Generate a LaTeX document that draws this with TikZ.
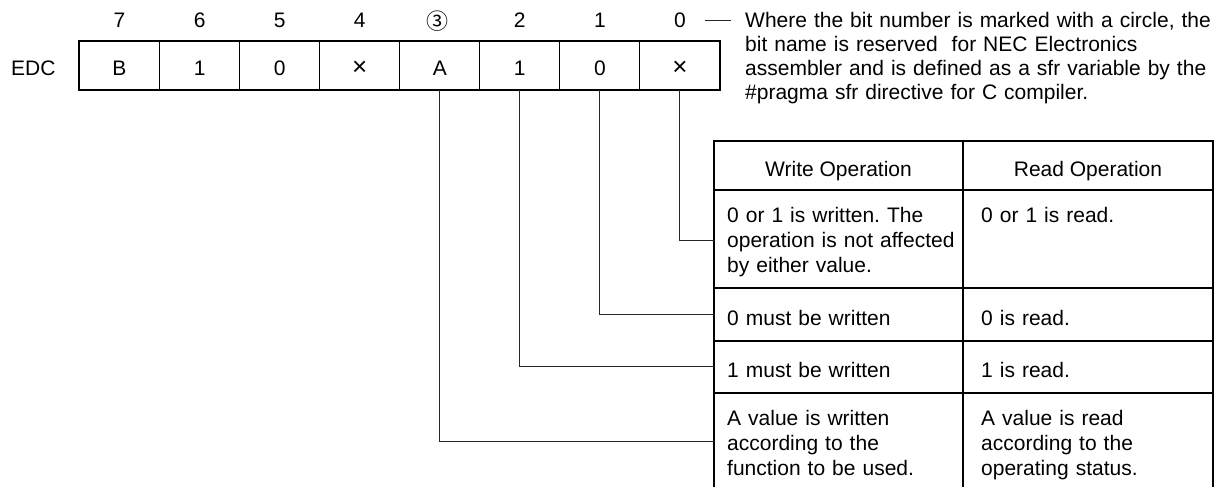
\documentclass[tikz,border=0pt]{standalone}
\usepackage{fontspec}
\setmainfont{Liberation Sans}
\newfontfamily\symfont{Noto Sans CJK SC}
\usetikzlibrary{calc}
\frenchspacing
\newcommand\crossmark{{\fontsize{26}{26}\selectfont ×}}

\begin{document}
\begin{tikzpicture}[x=1pt, y=-1pt,
  font=\fontsize{21}{25}\selectfont,
  cell/.style={draw, line width=1pt, minimum width=80.06pt, minimum height=48.7pt,
    inner sep=0pt, text height=20.7pt, text depth=0pt},
  bitno/.style={anchor=base, inner sep=0pt},
  celltext/.style={anchor=base west, inner sep=0pt, align=left, text width=250pt},
  frame/.style={line width=2pt},
  grid/.style={line width=1.3pt},
  link/.style={line width=1pt, black!85}]

% canvas
\fill[white] (0,0) rectangle (1216,487);
\useasboundingbox (0,0) rectangle (1216,487);
\clip (0,0) rectangle (1216,487);

% register name
\node[anchor=base west, inner sep=0pt] (reg) at (11,76) {EDC};

% register cells, bit 7 on the left
\node[cell] (c7) at (119.5,65.65) {B};
\node[cell] (c6) at (199.6,65.65) {1};
\node[cell] (c5) at (279.7,65.65) {0};
\node[cell] (c4) at (359.7,65.65) {\crossmark};
\node[cell] (c3) at (439.8,65.65) {A};
\node[cell] (c2) at (519.8,65.65) {1};
\node[cell] (c1) at (599.9,65.65) {0};
\node[cell] (c0) at (679.9,65.65) {\crossmark};
\draw[frame] (c7.north west) rectangle (c0.south east);

% bit numbers
\node[bitno] (b7) at (119.5,27.5) {7};
\node[bitno] (b6) at (199.6,27.5) {6};
\node[bitno] (b5) at (279.7,27.5) {5};
\node[bitno] (b4) at (359.7,27.5) {4};
\node[inner sep=0pt, font=\symfont\fontsize{22}{24}\selectfont] (b3) at (437,21) {③};
\node[bitno] (b2) at (519.8,27.5) {2};
\node[bitno] (b1) at (599.9,27.5) {1};
\node[bitno] (b0) at (679.9,27.5) {0};

% note on circled bit numbers
\node[anchor=base west, inner sep=0pt, align=left, text width=470pt,
      font=\fontsize{21}{24}\selectfont] (note) at (745,27.5)
  {Where the bit number is marked with a circle, the\\
   bit name is reserved\ \ for NEC Electronics\\
   assembler and is defined as a sfr variable by the\\
   \#pragma sfr directive for C compiler.};
\draw[link] ([xshift=19pt]b0.east) -- ($(b0.east -| note.base west)+(-14,0)$);

% operation table
\draw[line width=2.5pt] (714,495) -- (714,141) -- (1213,141) -- (1213,495);
\draw[line width=2.5pt] (963,141) -- (963,495);
\draw[frame] (714,190) -- (1213,190);
\draw[grid] (714,288) -- (1213,288);
\draw[grid] (714,341) -- (1213,341);
\draw[grid] (714,393) -- (1213,393);

\node[anchor=base, inner sep=0pt] (hw) at (838.5,176.5) {Write Operation};
\node[anchor=base, inner sep=0pt] (hr) at (1088,176.5) {Read Operation};

\node[celltext] (w1) at (727,222) {0 or 1 is written. The\\operation is not affected\\by either value.};
\node[celltext] (r1) at (981,222) {0 or 1 is read.};
\node[celltext] (w2) at (727,325) {0 must be written};
\node[celltext] (r2) at (981,325) {0 is read.};
\node[celltext] (w3) at (727,377) {1 must be written};
\node[celltext] (r3) at (981,377) {1 is read.};
\node[celltext] (w4) at (727,425) {A value is written\\according to the\\function to be used.};
\node[celltext] (r4) at (981,425) {A value is read\\according to the\\operating status.};

% row entry points on the table edge
\coordinate (e0) at (714,240);
\coordinate (e1) at (714,314);
\coordinate (e2) at (714,366);
\coordinate (e3) at (714,441);

% connectors from bits to their rows
\draw[link] (c0.south) |- (e0);
\draw[link] (c1.south) |- (e1);
\draw[link] (c2.south) |- (e2);
\draw[link] (c3.south) |- (e3);
\end{tikzpicture}
\end{document}
